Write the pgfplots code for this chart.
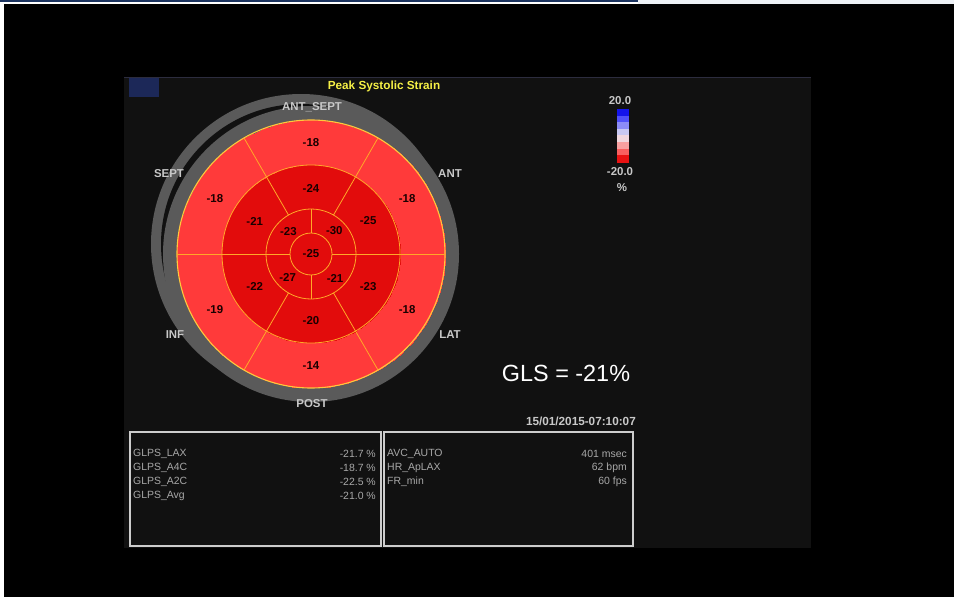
\documentclass[border=0pt]{standalone}
\usepackage{pgfplots}
\pgfplotsset{compat=1.18}
\usepackage{pgfplotstable}
\usepackage{fontspec}
\setmainfont{Liberation Sans}

\definecolor{navybar}{RGB}{28,52,96}
\definecolor{topwhite}{RGB}{238,242,247}
\definecolor{panel}{RGB}{17,17,17}
\definecolor{panelline}{RGB}{44,44,62}
\definecolor{tag}{RGB}{28,40,88}
\definecolor{ringgray}{RGB}{90,90,90}
\definecolor{segline}{RGB}{255,168,40}
\definecolor{rimline}{RGB}{255,200,60}
\definecolor{lbl}{RGB}{200,200,200}
\definecolor{tabtxt}{RGB}{168,168,168}
\definecolor{boxline}{RGB}{205,205,205}
\definecolor{titleyellow}{RGB}{245,240,70}

% 17-segment polar map: angular span, ring radii, label position, strain value (%)
\pgfplotstableread{
a0  a1  r0 r1  ac  lr  ns  v
60  120 89 134 90  111 31 -18
120 180 89 134 150 111 31 -18
180 240 89 134 210 111 31 -19
240 300 89 134 270 112 31 -14
300 360 89 134 330 111 31 -18
0   60  89 134 30  111 31 -18
60  120 45 89  90  66  31 -24
120 180 45 89  150 65  31 -21
180 240 45 89  210 65  31 -22
240 300 45 89  270 67  31 -20
300 360 45 89  330 66  31 -23
0   60  45 89  30  66  31 -25
90  180 21 45  135 32  46 -23
0   90  21 45  45  33  46 -30
180 270 21 45  225 33  46 -27
270 360 21 45  315 34  46 -21
0   360 0  21  0   0   121 -25
}\segments

\pgfplotsset{
  canvas/.style={width=954bp, height=597bp, scale only axis, hide axis,
    xmin=0, xmax=954, ymin=0, ymax=597, y dir=reverse, clip=false},
}

\begin{document}
\begin{tikzpicture}
% ---------- background, frame and grey rings ----------
\begin{axis}[canvas]
  \fill[white] (axis cs:0,0) rectangle (axis cs:954,597);
  \fill[navybar] (axis cs:0,0) rectangle (axis cs:638,2.5);
  \fill[topwhite] (axis cs:638,0) rectangle (axis cs:954,4.5);
  \fill[black] (axis cs:4,4.5) rectangle (axis cs:954,597);
  \fill[panel] (axis cs:124,77) rectangle (axis cs:811,548);
  \draw[panelline, line width=1bp] (axis cs:124,77.5) -- (axis cs:811,77.5);
  \fill[tag] (axis cs:129,78) rectangle (axis cs:159,97);
  % outer grey rings round the map
  \fill[ringgray] (axis cs:301,244) circle[radius=150bp];
  \fill[panel] (axis cs:301,244) circle[radius=140bp];
  \fill[ringgray] (axis cs:311,254) circle[radius=148bp];
\end{axis}

% ---------- coloured segments ----------
\begin{axis}[width=954bp, height=597bp, scale only axis, hide axis,
    view={0}{90}, xmin=-311, xmax=643, ymin=-343, ymax=254, zmin=-1, zmax=1,
    colormap={bull}{rgb255(0cm)=(226,12,12) rgb255(1cm)=(226,12,12)
                    rgb255(1.01cm)=(255,58,58) rgb255(2cm)=(255,58,58)},
    point meta min=-21, point meta max=-18]
  \pgfplotsforeachungrouped \i in {0,...,16}{%
    \pgfplotstablegetelem{\i}{a0}\of\segments\let\sa\pgfplotsretval
    \pgfplotstablegetelem{\i}{a1}\of\segments\let\sb\pgfplotsretval
    \pgfplotstablegetelem{\i}{r0}\of\segments\let\ra\pgfplotsretval
    \pgfplotstablegetelem{\i}{r1}\of\segments\let\rb\pgfplotsretval
    \pgfplotstablegetelem{\i}{ns}\of\segments\let\ns\pgfplotsretval
    \pgfplotstablegetelem{\i}{v}\of\segments\let\vv\pgfplotsretval
    \edef\doseg{\noexpand\addplot3[surf, shader=interp, draw=none,
      domain=\sa:\sb, y domain=\ra:\rb, samples=\ns, samples y=2,
      point meta={\vv}] ({y*cos(x)},{y*sin(x)},0);}%
    \doseg
  }
\end{axis}

% ---------- segment borders, values and annotations ----------
\begin{axis}[canvas]
  \draw[segline, line width=0.8bp] (axis cs:311,254) circle[radius=21bp];
  \draw[segline, line width=0.8bp] (axis cs:311,254) circle[radius=45bp];
  \draw[segline, line width=0.8bp] (axis cs:311,254) circle[radius=89bp];
  \draw[rimline, line width=1.1bp] (axis cs:311,254) circle[radius=134bp];
  \pgfplotsinvokeforeach{60,120,240,300}{
    \draw[segline, line width=0.8bp] (axis cs:311,254) ++(#1:45bp) -- ++(#1:89bp);
  }
  \pgfplotsinvokeforeach{0,180}{
    \draw[segline, line width=0.8bp] (axis cs:311,254) ++(#1:21bp) -- ++(#1:113bp);
  }
  \pgfplotsinvokeforeach{90,270}{
    \draw[segline, line width=0.8bp] (axis cs:311,254) ++(#1:21bp) -- ++(#1:24bp);
  }

  % segment values
  \addplot[draw=none, mark=none, nodes near coords, point meta=explicit symbolic,
    every node near coord/.style={anchor=center, inner sep=0pt,
      text={rgb,255:red,25;green,0;blue,0},
      font=\bfseries\fontsize{11.5}{12}\selectfont}]
    table[x expr={311+\thisrow{lr}*cos(\thisrow{ac})},
          y expr={254-\thisrow{lr}*sin(\thisrow{ac})}, meta=v] {\segments};

  % wall names
  \begin{scope}[every node/.style={text=lbl, inner sep=0pt,
      font=\bfseries\fontsize{11.5}{12}\selectfont}]
    \node at (axis cs:312,107) {ANT\_SEPT};
    \node at (axis cs:169,174) {SEPT};
    \node at (axis cs:450,174) {ANT};
    \node at (axis cs:175,335) {INF};
    \node at (axis cs:450,335) {LAT};
    \node at (axis cs:312,404) {POST};
  \end{scope}

  \node[text=titleyellow, inner sep=0pt, font=\bfseries\fontsize{11.8}{12}\selectfont]
    at (axis cs:384,86) {Peak Systolic Strain};

  % colour scale
  \fill[fill={rgb,255:red,20;green,20;blue,235}] (axis cs:617,109) rectangle (axis cs:629,115.7);
  \fill[fill={rgb,255:red,80;green,80;blue,250}] (axis cs:617,115.6) rectangle (axis cs:629,122.3);
  \fill[fill={rgb,255:red,140;green,140;blue,248}] (axis cs:617,122.2) rectangle (axis cs:629,128.9);
  \fill[fill={rgb,255:red,200;green,200;blue,242}] (axis cs:617,128.8) rectangle (axis cs:629,135.5);
  \fill[fill={rgb,255:red,240;green,215;blue,222}] (axis cs:617,135.4) rectangle (axis cs:629,142.1);
  \fill[fill={rgb,255:red,248;green,160;blue,160}] (axis cs:617,142) rectangle (axis cs:629,148.7);
  \fill[fill={rgb,255:red,248;green,95;blue,95}] (axis cs:617,148.6) rectangle (axis cs:629,155.3);
  \fill[fill={rgb,255:red,232;green,18;blue,18}] (axis cs:617,155.2) rectangle (axis cs:629,163);
  \begin{scope}[every node/.style={text=lbl, inner sep=0pt,
      font=\bfseries\fontsize{11.5}{12}\selectfont}]
    \node at (axis cs:620,101) {20.0};
    \node at (axis cs:620,172) {-20.0};
    \node at (axis cs:622,188) {\%};
  \end{scope}

  \node[text=white, inner sep=0pt, font=\fontsize{23.5}{24}\selectfont]
    at (axis cs:566,373) {GLS = -21\%};

  \node[text=lbl, inner sep=0pt, anchor=east, font=\bfseries\fontsize{11.8}{12}\selectfont]
    at (axis cs:636,421) {15/01/2015-07:10:07};

  % measurement boxes
  \draw[boxline, line width=1.4bp] (axis cs:130,432) rectangle (axis cs:381,546);
  \draw[boxline, line width=1.4bp] (axis cs:384,432) rectangle (axis cs:633,546);
  \begin{scope}[every node/.style={text=tabtxt, inner sep=0pt,
      font=\fontsize{10.5}{11}\selectfont}]
    \node[anchor=west] at (axis cs:133,454) {GLPS\_LAX};
    \node[anchor=west] at (axis cs:133,468) {GLPS\_A4C};
    \node[anchor=west] at (axis cs:133,482) {GLPS\_A2C};
    \node[anchor=west] at (axis cs:133,496) {GLPS\_Avg};
    \node[anchor=east] at (axis cs:376,454) {-21.7 \%};
    \node[anchor=east] at (axis cs:376,468) {-18.7 \%};
    \node[anchor=east] at (axis cs:376,482) {-22.5 \%};
    \node[anchor=east] at (axis cs:376,496) {-21.0 \%};
    \node[anchor=west] at (axis cs:387,454) {AVC\_AUTO};
    \node[anchor=west] at (axis cs:387,468) {HR\_ApLAX};
    \node[anchor=west] at (axis cs:387,482) {FR\_min};
    \node[anchor=east] at (axis cs:627,454) {401 msec};
    \node[anchor=east] at (axis cs:627,468) {62 bpm};
    \node[anchor=east] at (axis cs:627,482) {60 fps};
  \end{scope}
\end{axis}
\end{tikzpicture}
\end{document}
